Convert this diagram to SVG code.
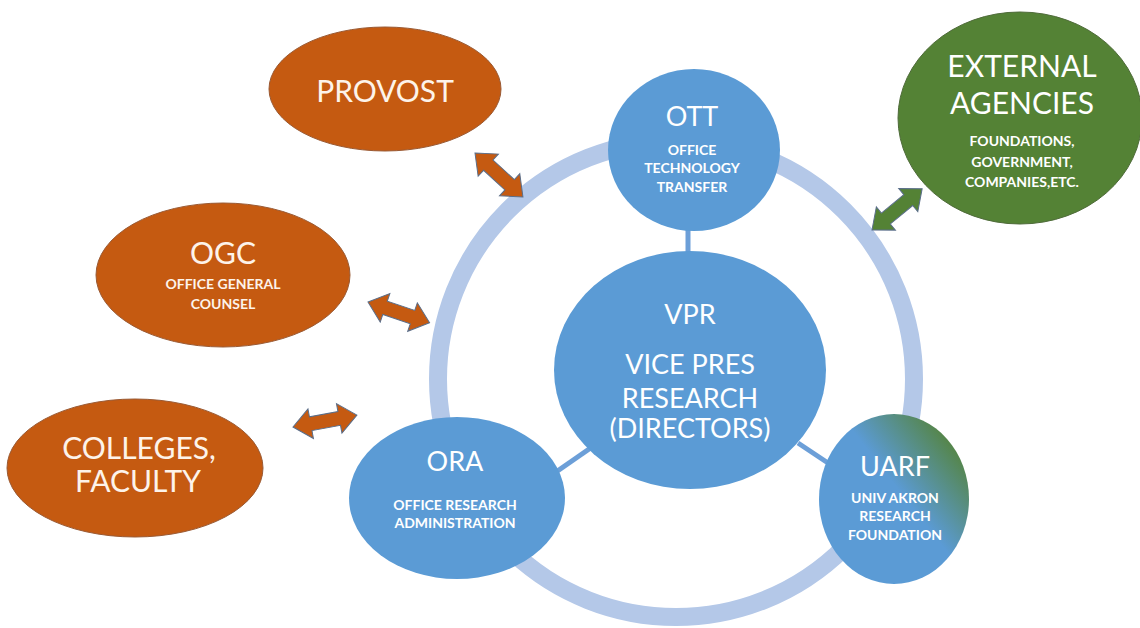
<svg xmlns="http://www.w3.org/2000/svg" width="1140" height="628" viewBox="0 0 1140 628">
<style>
.org{fill:#c55a11;stroke:#9a5a34;stroke-width:1}
.blue{fill:#5b9bd5}
.t{font-family:Lato,"Open Sans","Liberation Sans",sans-serif;fill:#ffffff;text-anchor:middle}
.to{fill:#fdf3ea}
.big{font-size:30px}
.mid{font-size:27px}
.sm{font-size:14px;font-weight:bold}
.arrO{fill:#c55a11;stroke:#5a6e8a;stroke-width:1}
.arrG{fill:#548235;stroke:#5a6e8a;stroke-width:1}
.link{stroke:#6c9fd8;stroke-width:5;fill:none}
</style>
<defs>
<linearGradient id="uarfGrad" x1="0.1" y1="0.9" x2="0.95" y2="0.15">
<stop offset="0" stop-color="#5b9bd5"/>
<stop offset="0.55" stop-color="#5b9bd5"/>
<stop offset="1" stop-color="#548235"/>
</linearGradient>
<path id="dblArrow" d="M0,0 L18,-15 L18,-7 L47,-7 L47,-15 L65,0 L47,15 L47,7 L18,7 L18,15 Z"/>
</defs>
<rect width="1140" height="628" fill="#ffffff"/>
<g id="ring">
<circle cx="676" cy="379" r="238" fill="none" stroke="#b4c8e8" stroke-width="18"/>
</g>
<g id="connectors">
<line class="link" x1="688" y1="228" x2="688" y2="256"/>
<line class="link" x1="556" y1="472" x2="592" y2="447"/>
<line class="link" x1="798" y1="443" x2="834" y2="467"/>
<use href="#dblArrow" class="arrO" transform="translate(475,153) rotate(42.5)"/>
<use href="#dblArrow" class="arrO" transform="translate(368,302) rotate(18.7)"/>
<use href="#dblArrow" class="arrO" transform="translate(293,427) rotate(-10.5)"/>
<use href="#dblArrow" class="arrG" transform="translate(872,230) rotate(-39.5)"/>
</g>
<g id="provost">
<ellipse class="org" cx="385" cy="89" rx="116" ry="62"/>
<text class="t to big" x="385" y="102">PROVOST</text>
</g>
<g id="ogc">
<ellipse class="org" cx="223" cy="275" rx="127" ry="72"/>
<text class="t to big" x="223" y="264">OGC</text>
<text class="t to sm" x="223" y="289">OFFICE GENERAL</text>
<text class="t to sm" x="223" y="309">COUNSEL</text>
</g>
<g id="colleges">
<ellipse class="org" cx="135" cy="468" rx="128" ry="69"/>
<text class="t to big" x="139" y="459">COLLEGES,</text>
<text class="t to big" x="138" y="492">FACULTY</text>
</g>
<g id="external">
<ellipse cx="1020" cy="118" rx="122" ry="106" fill="#548235" stroke="#4f6b3a" stroke-width="1"/>
<text class="t big" x="1022" y="77">EXTERNAL</text>
<text class="t big" x="1022" y="114">AGENCIES</text>
<text class="t sm" x="1022" y="146">FOUNDATIONS,</text>
<text class="t sm" x="1022" y="167">GOVERNMENT,</text>
<text class="t sm" x="1022" y="187">COMPANIES,ETC.</text>
</g>
<g id="ott">
<ellipse class="blue" cx="694" cy="150" rx="86" ry="81"/>
<text class="t mid" x="692" y="126">OTT</text>
<text class="t sm" x="692" y="155">OFFICE</text>
<text class="t sm" x="692" y="173">TECHNOLOGY</text>
<text class="t sm" x="692" y="192">TRANSFER</text>
</g>
<g id="vpr">
<ellipse class="blue" cx="690" cy="370" rx="136" ry="119"/>
<text class="t mid" x="690" y="324">VPR</text>
<text class="t mid" x="690" y="374">VICE PRES</text>
<text class="t mid" x="690" y="408">RESEARCH</text>
<text class="t mid" x="690" y="438">(DIRECTORS)</text>
</g>
<g id="ora">
<ellipse class="blue" cx="457" cy="498" rx="108" ry="81"/>
<text class="t mid" x="455" y="471">ORA</text>
<text class="t sm" x="455" y="510">OFFICE RESEARCH</text>
<text class="t sm" x="455" y="528">ADMINISTRATION</text>
</g>
<g id="uarf">
<ellipse cx="894" cy="499" rx="75" ry="85" fill="url(#uarfGrad)"/>
<text class="t mid" x="895" y="476">UARF</text>
<text class="t sm" x="895" y="503">UNIV AKRON</text>
<text class="t sm" x="895" y="521">RESEARCH</text>
<text class="t sm" x="895" y="540">FOUNDATION</text>
</g>
</svg>
